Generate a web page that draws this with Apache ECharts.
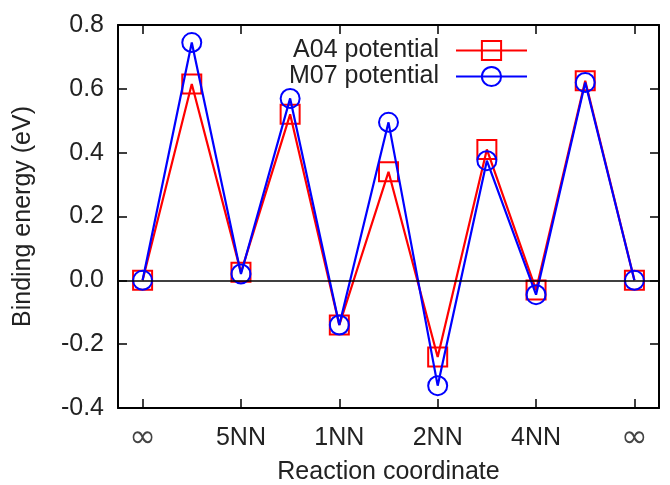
<!DOCTYPE html>
<html>
<head>
<meta charset="utf-8">
<script src="https://cdn.jsdelivr.net/npm/echarts@6/dist/echarts.min.js"></script>
<style>html,body{margin:0;padding:0;background:#fff}#c{width:670px;height:485px}</style>
</head>
<body>
<div id="c"></div>
<script>
const categories = ['∞','','5NN','','1NN','','2NN','','4NN','','∞'];
const a04 = [0, 0.615, 0.025, 0.52, -0.14, 0.34, -0.24, 0.41, -0.03, 0.625, 0];
const m07 = [0, 0.745, 0.02, 0.57, -0.14, 0.495, -0.33, 0.375, -0.045, 0.62, 0];
const seriesNames = ['A04 potential', 'M07 potential'];
const yTicks = { min: -0.4, max: 0.8, step: 0.2 };

const FONT = 'Liberation Sans, Arial, sans-serif';
const TXT = '#222';
const chart = echarts.init(document.getElementById('c'), null, {renderer: 'canvas'});

const tickCommon = { show: true, inside: true, length: 9, lineStyle: { color: '#000', width: 1.5 } };
chart.setOption({
  animation: false,
  backgroundColor: '#fff',
  grid: { left: 118, right: 11, top: 25, bottom: 77, containLabel: false, outerBoundsMode: 'none' },
  legend: {
    orient: 'vertical', right: 137, top: 33, align: 'right',
    itemWidth: 71, itemHeight: 24, itemGap: 1,
    textStyle: { fontFamily: FONT, fontSize: 25, lineHeight: 24, color: TXT, padding: [0, 12, 0, 0] },
    data: seriesNames
  },
  xAxis: [{
    type: 'category', data: categories, boundaryGap: true,
    name: 'Reaction coordinate', nameLocation: 'middle', nameGap: 44,
    nameTextStyle: { fontFamily: FONT, fontSize: 25, color: TXT },
    axisLine: { onZero: false, lineStyle: { color: '#000', width: 2 } },
    axisTick: Object.assign({ alignWithLabel: true, interval: 1 }, tickCommon),
    axisLabel: {
      interval: 1, fontFamily: FONT, fontSize: 25, color: TXT, margin: 18,
      formatter: v => v === '∞' ? '{inf|∞}' : v,
      rich: { inf: { fontFamily: 'DejaVu Sans', fontSize: 32, lineHeight: 25, color: '#444' } }
    },
    splitLine: { show: false }
  }, {
    type: 'category', data: categories, boundaryGap: true, position: 'top',
    axisLine: { onZero: false, lineStyle: { color: '#000', width: 2 } },
    axisTick: Object.assign({ alignWithLabel: true, interval: 1 }, tickCommon),
    axisLabel: { show: false }, splitLine: { show: false }
  }],
  yAxis: [{
    type: 'value', min: yTicks.min, max: yTicks.max, interval: yTicks.step,
    name: 'Binding energy (eV)', nameLocation: 'middle', nameGap: 82,
    nameTextStyle: { fontFamily: FONT, fontSize: 25, color: TXT },
    axisLine: { show: true, onZero: false, lineStyle: { color: '#000', width: 2 } },
    axisTick: tickCommon,
    axisLabel: { fontFamily: FONT, fontSize: 25, color: TXT, margin: 14, formatter: v => v.toFixed(1) },
    splitLine: { show: false }
  }, {
    type: 'value', min: yTicks.min, max: yTicks.max, interval: yTicks.step, position: 'right',
    axisLine: { show: true, onZero: false, lineStyle: { color: '#000', width: 2 } },
    axisTick: tickCommon,
    axisLabel: { show: false }, splitLine: { show: false }
  }],
  series: [{
    name: seriesNames[0], type: 'line', data: a04,
    symbol: 'rect', symbolSize: 19,
    lineStyle: { color: '#ff0000', width: 2.2 },
    itemStyle: { color: 'rgba(0,0,0,0)', borderColor: '#ff0000', borderWidth: 2 },
    markLine: {
      silent: true, symbol: 'none', label: { show: false },
      lineStyle: { color: '#000', width: 1.5, type: 'solid' },
      data: [{ yAxis: 0 }]
    },
    z: 2
  }, {
    name: seriesNames[1], type: 'line', data: m07,
    symbol: 'circle', symbolSize: 19,
    lineStyle: { color: '#0000ff', width: 2.2 },
    itemStyle: { color: 'rgba(0,0,0,0)', borderColor: '#0000ff', borderWidth: 2 },
    z: 3
  }]
});
</script>
</body>
</html>
